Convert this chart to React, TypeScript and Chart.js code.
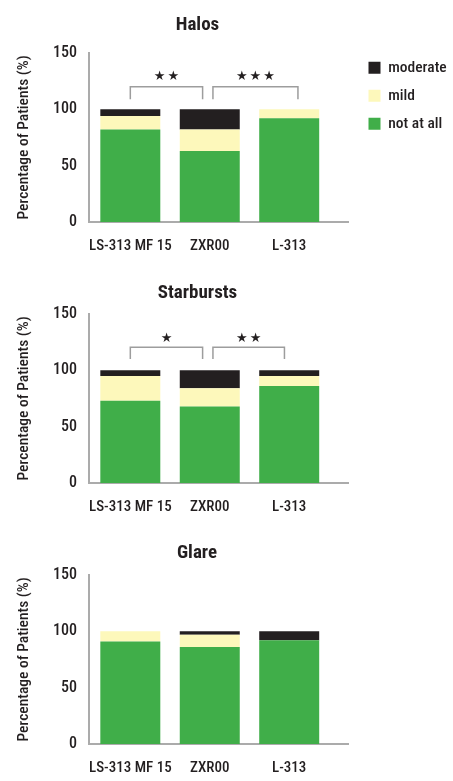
import React, { useEffect, useRef } from "react";
import { Chart, registerables } from "chart.js";

Chart.register(...registerables);

// ---------- data ----------
const categories = ["LS-313 MF 15", "ZXR00", "L-313"];
const seriesNames = ["not at all", "mild", "moderate"];
const yTickStep = 50;
const yMax = 150;

const halosNotAtAll = [82, 63, 92];
const halosMild = [12, 19, 8];
const halosModerate = [6, 18, 0];

const starburstsNotAtAll = [73, 68, 86];
const starburstsMild = [22, 16, 9];
const starburstsModerate = [5, 16, 5];

const glareNotAtAll = [91, 86, 92];
const glareMild = [9, 11, 0];
const glareModerate = [0, 3, 8];

// significance brackets (x in category units, y in % units)
const halosBracketFrom = [0, 1.04];
const halosBracketTo = [0.91, 2.11];
const halosBracketStars = ["★★", "★★★"];
const halosBracketLevels = [120, 109, 129]; // top, leg end, stars

const starburstsBracketFrom = [0, 1.04];
const starburstsBracketTo = [0.91, 1.94];
const starburstsBracketStars = ["★", "★★"];
const starburstsBracketLevels = [120.5, 110, 128];

// ---------- style ----------
const FONT = "'Roboto Condensed', 'Liberation Sans Narrow', Roboto, sans-serif";
const TEXT = "#231f20";
const AXIS = "#ababab";
const BRACKET = "#9d9d9d";
const COLORS = ["#40ae49", "#fdf8bb", "#231f20"];
const W = 453;
const H = 260;
const AXIS_RIGHT = 348;

const panelTitlePlugin = {
  id: "panelTitle",
  afterDraw(chart: any, _args: any, opts: any) {
    const { ctx, chartArea } = chart;
    ctx.save();
    ctx.font = `bold 19px ${FONT}`;
    ctx.fillStyle = TEXT;
    ctx.textAlign = "center";
    ctx.textBaseline = "middle";
    ctx.fillText(opts.text, opts.centerX, chartArea.top - opts.gap);
    ctx.restore();
  },
};

const significancePlugin = {
  id: "significance",
  afterDatasetsDraw(chart: any, _args: any, opts: any) {
    if (!opts || !opts.from) return;
    const { ctx } = chart;
    const xs = chart.scales.x;
    const ys = chart.scales.y;
    const [top, leg, star] = opts.levels;
    ctx.save();
    ctx.strokeStyle = BRACKET;
    ctx.lineWidth = 1.5;
    ctx.fillStyle = TEXT;
    ctx.font = `13px 'DejaVu Sans', sans-serif`;
    ctx.textAlign = "center";
    ctx.textBaseline = "middle";
    try {
      (ctx as any).letterSpacing = "2px";
    } catch (e) {}
    opts.from.forEach((f: number, i: number) => {
      const x0 = xs.getPixelForValue(f);
      const x1 = xs.getPixelForValue(opts.to[i]);
      const yt = ys.getPixelForValue(top);
      const yb = ys.getPixelForValue(leg);
      ctx.beginPath();
      ctx.moveTo(x0, yb);
      ctx.lineTo(x0, yt);
      ctx.lineTo(x1, yt);
      ctx.lineTo(x1, yb);
      ctx.stroke();
      ctx.fillText(opts.stars[i], (x0 + x1) / 2 + 1, ys.getPixelForValue(star));
    });
    ctx.restore();
  },
};

type PanelProps = {
  top: number;
  title: string;
  titleGap: number;
  titleX: number;
  series: number[][];
  legend?: boolean;
  brackets?: { from: number[]; to: number[]; stars: string[]; levels: number[] };
};

const hiddenAxis = (pos: string, size: number) => ({
  type: "linear",
  position: pos,
  display: true,
  ticks: { display: false },
  grid: { display: false, drawTicks: false },
  border: { display: false },
  afterFit: (s: any) => {
    if (pos === "top") s.height = size;
    else s.width = size;
  },
});

function Panel({ top, title, titleGap, titleX, series, legend, brackets }: PanelProps) {
  const ref = useRef<HTMLCanvasElement>(null);
  useEffect(() => {
    if (!ref.current) return;
    const datasets = series.map((vals, si) => ({
      label: seriesNames[si],
      data: vals.map((v, i) => ({ x: i, y: v })),
      backgroundColor: COLORS[si],
      borderWidth: 0,
      categoryPercentage: 1,
      barPercentage: 0.755,
    }));
    const scales: any = {
      x: {
        type: "linear",
        min: -0.52,
        max: 2.74,
        offset: false,
        stacked: true,
        afterBuildTicks: (s: any) => {
          s.ticks = categories.map((_, i) => ({ value: i }));
        },
        ticks: {
          callback: (v: any) => categories[v] ?? "",
          autoSkip: false,
          maxRotation: 0,
          padding: 15,
          color: TEXT,
          font: { family: FONT, size: 15, weight: 500 },
        },
        grid: { display: false, drawTicks: false },
        border: { display: true, color: AXIS, width: 2 },
        afterFit: (s: any) => {
          s.height = 38;
        },
      },
      y: {
        type: "linear",
        min: 0,
        max: yMax,
        stacked: true,
        ticks: {
          stepSize: yTickStep,
          padding: 12,
          color: TEXT,
          font: { family: FONT, size: 16, weight: 500 },
        },
        grid: { display: false, drawTicks: false },
        border: { display: true, color: AXIS, width: 2 },
        title: {
          display: true,
          text: "Percentage of Patients (%)",
          color: TEXT,
          font: { family: FONT, size: 15.5, weight: 500 },
          padding: { top: 15, bottom: 0 },
        },
        afterFit: (s: any) => {
          s.width = 89;
        },
      },
    };
    if (legend) {
      scales.gapRight = hiddenAxis("right", 8);
      scales.gapTop = hiddenAxis("top", 5.5);
    }
    const chart = new Chart(ref.current, {
      type: "bar",
      data: { datasets },
      options: {
        responsive: false,
        animation: false,
        events: [],
        layout: {
          padding: {
            top: legend ? 47.5 : 53,
            bottom: 0,
            left: 0,
            right: legend ? 0 : W - AXIS_RIGHT,
          },
        },
        scales,
        plugins: {
          legend: {
            display: !!legend,
            position: "right",
            align: "start",
            fullSize: true,
            reverse: true,
            maxWidth: 240,
            labels: {
              boxWidth: 12,
              boxHeight: 12,
              padding: 12.5,
              color: TEXT,
              font: { family: FONT, size: 15.5, weight: 500 },
            },
          },
          title: { display: false },
          tooltip: { enabled: false },
          panelTitle: { text: title, gap: titleGap, centerX: titleX },
          significance: brackets || {},
        } as any,
      },
      plugins: [panelTitlePlugin, significancePlugin],
    } as any);
    if (legend) {
      const delta = chart.chartArea.right - AXIS_RIGHT;
      if (Math.abs(delta) > 0.25) {
        (chart.options.layout as any).padding.right = delta;
        chart.update();
      }
    }
    return () => chart.destroy();
  }, []);
  return (
    <canvas
      ref={ref}
      width={W}
      height={H}
      style={{ position: "absolute", left: 0, top, width: W, height: H }}
    />
  );
}

export default function App() {
  return (
    <div
      style={{
        position: "absolute",
        left: 0,
        top: 0,
        width: W,
        height: 781,
        overflow: "hidden",
        background: "#fff",
      }}
    >
      <Panel
        top={0}
        title="Halos"
        titleGap={28}
        titleX={197.5}
        series={[halosNotAtAll, halosMild, halosModerate]}
        legend
        brackets={{
          from: halosBracketFrom,
          to: halosBracketTo,
          stars: halosBracketStars,
          levels: halosBracketLevels,
        }}
      />
      <Panel
        top={261}
        title="Starbursts"
        titleGap={21}
        titleX={197.5}
        series={[starburstsNotAtAll, starburstsMild, starburstsModerate]}
        brackets={{
          from: starburstsBracketFrom,
          to: starburstsBracketTo,
          stars: starburstsBracketStars,
          levels: starburstsBracketLevels,
        }}
      />
      <Panel
        top={522}
        title="Glare"
        titleGap={21.5}
        titleX={197}
        series={[glareNotAtAll, glareMild, glareModerate]}
      />
    </div>
  );
}
